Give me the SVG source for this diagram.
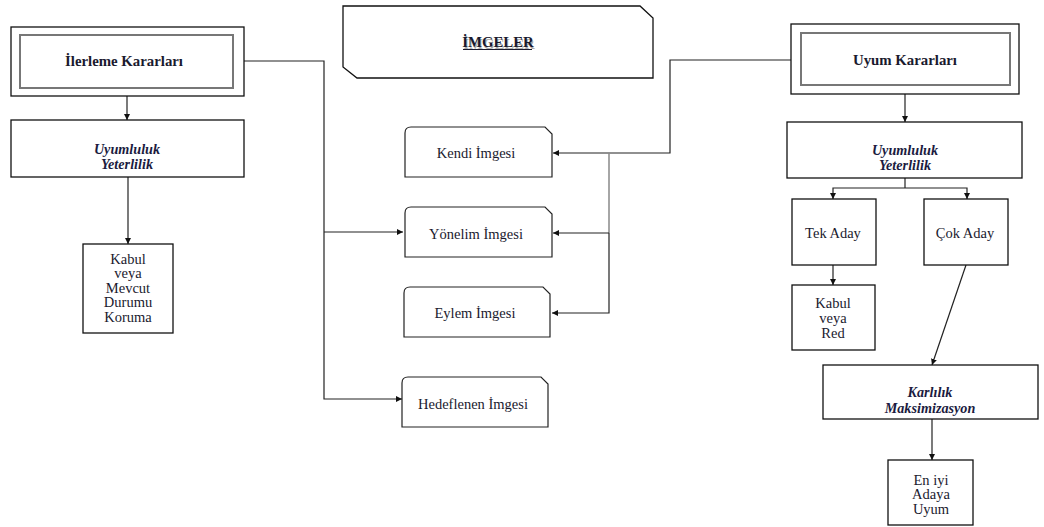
<svg xmlns="http://www.w3.org/2000/svg" width="1044" height="527" viewBox="0 0 1044 527">
  <defs>
    <marker id="arrow" viewBox="0 0 8 8" refX="8" refY="4" markerWidth="6" markerHeight="6" markerUnits="userSpaceOnUse" orient="auto">
      <path d="M0,0 L8,4 L0,8 Z" fill="#111"/>
    </marker>
    <style>
      .box { fill: #fff; stroke: #111; stroke-width: 1.3; }
      .inner { fill: none; stroke: #777; stroke-width: 2; }
      .img { fill: #fff; stroke: #222; stroke-width: 1.2; }
      .conn { fill: none; stroke: #222; stroke-width: 1.2; }
      .conn-grey { fill: none; stroke: #888; stroke-width: 1.5; }
      .arr { marker-end: url(#arrow); }
      text { font-family: "Liberation Serif", "Times New Roman", serif; fill: #1a1a2e; text-anchor: middle; font-size: 14.5px; }
      .title { font-weight: bold; font-size: 14.8px; }
      .bi { font-weight: bold; font-style: italic; font-size: 14.2px; fill: #1b1b40; }
    </style>
  </defs>

  <!-- connectors -->
  <g id="connectors">
    <!-- İlerleme Kararları to image boxes -->
    <polyline class="conn" points="244,61 324,61 324,232"/>
    <polyline class="conn arr" points="324,232 403,232"/>
    <polyline class="conn arr" points="324,232 324,399 402,399"/>
    <!-- Uyum Kararları to image boxes -->
    <polyline class="conn arr" points="791,60 670,60 670,153 553,153"/>
    <line class="conn-grey" x1="609" y1="153" x2="609" y2="233"/>
    <polyline class="conn arr" points="609,233 553,233"/>
    <polyline class="conn arr" points="609,233 609,313 552,313"/>
    <!-- left column -->
    <line class="conn arr" x1="127" y1="96" x2="127" y2="120"/>
    <line class="conn arr" x1="128" y1="177" x2="128" y2="244"/>
    <!-- right column -->
    <line class="conn arr" x1="905" y1="94" x2="905" y2="122"/>
    <polyline class="conn" points="905,178 905,188"/>
    <polyline class="conn arr" points="905,188 833,188 833,199"/>
    <polyline class="conn arr" points="905,188 967,188 967,199"/>
    <line class="conn arr" x1="833" y1="265" x2="833" y2="285"/>
    <line class="conn arr" x1="966" y1="265" x2="932" y2="365"/>
    <line class="conn arr" x1="932" y1="419" x2="932" y2="460"/>
  </g>

  <!-- title -->
  <g id="imgeler">
    <path class="box" d="M343,6 H640 L653,18 V78 H357 L343,67 Z"/>
    <text class="title" x="498" y="47" style="fill:#aaa" dx="1" dy="1.5">İMGELER</text>
    <text class="title" x="498" y="47">İMGELER</text>
    <line x1="463" y1="49.5" x2="532" y2="49.5" stroke="#1a1a2e" stroke-width="1"/>
  </g>

  <!-- left branch -->
  <g id="ilerleme-kararlari">
    <rect class="box" x="11" y="27" width="233" height="69"/>
    <rect class="inner" x="20" y="35" width="213" height="53"/>
    <text class="title" x="124" y="66">İlerleme Kararları</text>
  </g>
  <g id="uyumluluk-sol">
    <rect class="box" x="11" y="120" width="233" height="57"/>
    <text class="bi" x="127" y="154">Uyumluluk</text>
    <text class="bi" x="127" y="169">Yeterlilik</text>
  </g>
  <g id="kabul-mevcut">
    <rect class="box" x="83" y="244" width="90" height="89"/>
    <text x="128" y="264">Kabul</text>
    <text x="128" y="278">veya</text>
    <text x="128" y="293">Mevcut</text>
    <text x="128" y="307">Durumu</text>
    <text x="128" y="322">Koruma</text>
  </g>

  <!-- image boxes -->
  <g id="kendi-imgesi">
    <path class="img" d="M405,177 V133 Q405,127 411,127 H545 L552,134 V177 Z"/>
    <text x="476" y="158">Kendi İmgesi</text>
  </g>
  <g id="yonelim-imgesi">
    <path class="img" d="M405,257 V213 Q405,207 411,207 H545 L552,214 V257 Z"/>
    <text x="476" y="239">Yönelim İmgesi</text>
  </g>
  <g id="eylem-imgesi">
    <path class="img" d="M404,337 V293 Q404,287 410,287 H543 L550,294 V337 Z"/>
    <text x="475" y="318">Eylem İmgesi</text>
  </g>
  <g id="hedeflenen-imgesi">
    <path class="img" d="M402,427 V383 Q402,377 408,377 H541 L548,384 V427 Z"/>
    <text x="473" y="409">Hedeflenen İmgesi</text>
  </g>

  <!-- right branch -->
  <g id="uyum-kararlari">
    <rect class="box" x="791" y="24" width="228" height="70"/>
    <rect class="inner" x="801" y="33" width="209" height="52"/>
    <text class="title" x="905" y="65">Uyum Kararları</text>
  </g>
  <g id="uyumluluk-sag">
    <rect class="box" x="787" y="122" width="235" height="56"/>
    <text class="bi" x="905" y="155">Uyumluluk</text>
    <text class="bi" x="905" y="170">Yeterlilik</text>
  </g>
  <g id="tek-aday">
    <rect class="box" x="792" y="199" width="84" height="66"/>
    <text x="833" y="238">Tek Aday</text>
  </g>
  <g id="cok-aday">
    <rect class="box" x="924" y="199" width="84" height="66"/>
    <text x="965" y="238">Çok Aday</text>
  </g>
  <g id="kabul-red">
    <rect class="box" x="792" y="285" width="83" height="65"/>
    <text x="833" y="308">Kabul</text>
    <text x="833" y="323">veya</text>
    <text x="833" y="338">Red</text>
  </g>
  <g id="karlilik">
    <rect class="box" x="823" y="365" width="215" height="54"/>
    <text class="bi" x="930" y="397">Karlılık</text>
    <text class="bi" x="930" y="413">Maksimizasyon</text>
  </g>
  <g id="en-iyi-aday">
    <rect class="box" x="888" y="460" width="85" height="65"/>
    <text x="931" y="485">En iyi</text>
    <text x="931" y="499">Adaya</text>
    <text x="931" y="514">Uyum</text>
  </g>
</svg>
